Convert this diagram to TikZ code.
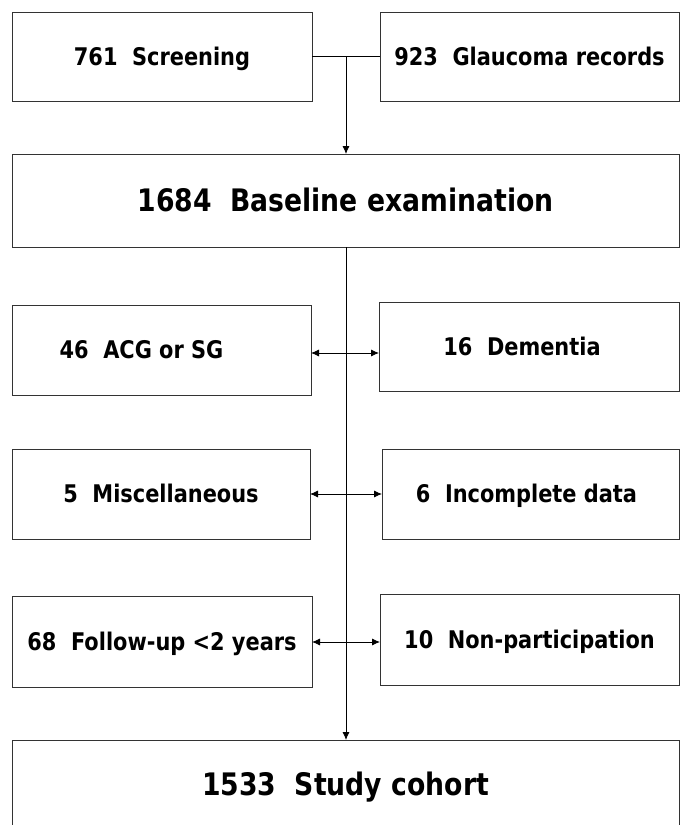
\documentclass[tikz,border=0pt]{standalone}
\usepackage{fontspec}
\newfontfamily\boxfont{DejaVu Sans}[FakeStretch=0.86]
\usetikzlibrary{arrows.meta}
\begin{document}
\begin{tikzpicture}[x=1pt,y=-1pt,
  box/.style={draw=black!80, line width=1pt, rectangle, inner sep=0pt, outer sep=0pt,
    font=\boxfont\bfseries\fontsize{24.3}{28}\selectfont, text height=17.7pt, text depth=0pt},
  bigbox/.style={box, font=\boxfont\bfseries\fontsize{31}{36}\selectfont, text height=22.6pt},
  conn/.style={draw=black, line width=0.8pt},
  arr/.style={conn, -{Latex[length=8pt,width=7pt]}},
  darr/.style={conn, {Latex[length=8pt,width=7pt]}-{Latex[length=8pt,width=7pt]}}
]
\useasboundingbox[fill=white] (0,0) rectangle (682,825);

\node[box, minimum width=300pt, minimum height=89pt] (scr) at (162,56.5) {761~~Screening};
\node[box, minimum width=299pt, minimum height=89pt] (gla) at (529.5,56.5) {923~~Glaucoma records};
\node[bigbox, minimum width=667pt, minimum height=93pt] (base) at (345.5,200.5) {1684~~Baseline examination};
\node[box, minimum width=299pt, minimum height=90pt] (acg) at (161.5,350) {46~~ACG or SG\hspace*{40pt}};
\node[box, minimum width=300pt, minimum height=89pt] (dem) at (529,346.5) {16~~Dementia\hspace*{14pt}};
\node[box, minimum width=298pt, minimum height=90pt] (misc) at (161,494) {5~~Miscellaneous};
\node[box, minimum width=297pt, minimum height=90pt] (inc) at (530.5,494) {6~~Incomplete data\hspace*{8pt}};
\node[box, minimum width=300pt, minimum height=91pt] (fol) at (162,641.5) {68~~Follow-up <2 years};
\node[box, minimum width=299pt, minimum height=91pt] (non) at (529.5,639.5) {10~~Non-participation};
\node[bigbox, minimum width=667pt, minimum height=89pt] (study) at (345.5,784.5) {1533~~Study cohort};

\coordinate (j) at (346,56.5);
\coordinate (r1) at (346,353);
\coordinate (r2) at (346,494);
\coordinate (r3) at (346,642);

\draw[conn] (scr.east) -- (gla.west);
\draw[arr] (j) -- (base.north -| j);
\draw[arr] (base.south -| j) -- (study.north -| j);
\draw[darr] (acg.east |- r1) -- (dem.west |- r1);
\draw[darr] (misc.east |- r2) -- (inc.west |- r2);
\draw[darr] (fol.east |- r3) -- (non.west |- r3);
\end{tikzpicture}
\end{document}
